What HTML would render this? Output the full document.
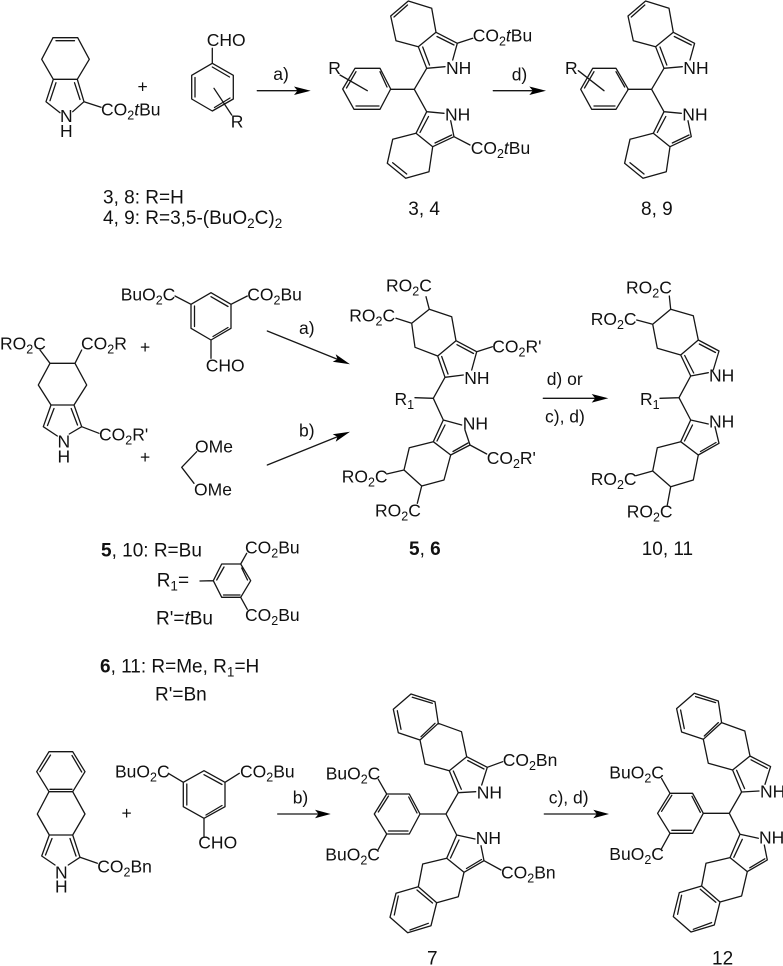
<!DOCTYPE html>
<html><head><meta charset="utf-8"><style>
html,body{margin:0;padding:0;background:#fff;width:783px;height:966px;overflow:hidden}
svg{display:block}
path.b{fill:none;stroke:#161616;stroke-width:1.3;stroke-linecap:round;stroke-linejoin:round}
path.a{fill:#000;stroke:none}
text{font-family:"Liberation Sans",sans-serif;font-size:17.5px;fill:#111}
text.l{font-size:19px}
.s{font-size:12.5px}
.l .s{font-size:13.5px}
</style></head><body>
<svg width="783" height="966" viewBox="0 0 783 966" xmlns="http://www.w3.org/2000/svg">

<!-- Row 1 reagents -->
<path class="b" d="M53,37.7L77.7,37.7M56,40.7L74.5,40.7M53,37.7L41.7,59.3L53.3,79.3L77.3,79.3L89.3,59.3L77.7,37.7M53.3,79.3L46,101.7L60,112.7M56,82.7L50,100.7M77.3,79.3L84,101.7L72.7,111.7M74.5,82.7L80,99.5M84,101.7L101,107.3"/>
<text x="60" y="122">N</text><text x="60" y="137">H</text>
<text x="101" y="115.5">CO<tspan class="s" dy="4">2</tspan><tspan dy="-4" font-style="italic">t</tspan>Bu</text>
<text x="137.5" y="92.5">+</text>
<path class="b" d="M212.3,48.3L212.3,63.3L233.3,75.3L233.3,99L212.3,111L191.7,99L191.7,75.3L212.3,63.3M212.3,67L229.5,77M195,77.5L195,97M214.5,107.5L230,98M214,88.3L231.7,115"/>
<text x="206.7" y="46">CHO</text>
<text x="230.7" y="127.7">R</text>
<path class="b" d="M257.3,90.7L300,90.7"/><path class="a" d="M310.7,90.7L294,86.5L297.5,90.7L294,95Z"/>
<text x="273.3" y="80">a)</text>
<text class="l" x="103" y="203.5">3, 8: R=H</text>
<text class="l" x="103" y="224">4, 9: R=3,5-(BuO<tspan class="s" dy="4">2</tspan><tspan dy="-4">C)</tspan><tspan class="s" dy="4">2</tspan></text>

<!-- 3,4 -->
<path class="b" d="M355,68.3L380,68.3L390.7,89L380,109.3L354,109.3L342.7,89ZM380,71.7L387,87M346.5,88L356,71.7M356,106L379,106M340,75L367.3,90.7"/>
<text x="328.3" y="74">R</text>
<g id="bp1"><path class="b" d="M390.5,89.3L414.3,89.3L426.7,68.3L445,66.7M426.7,68.3L418.3,46.7L436,32.3L457.3,43.3L452.7,60M429.5,65L422.7,47M437,36.5L454,45M436,32.3L431.7,8.3L408.3,1L390.7,16L396,40.7L418.3,46.7M407.5,5L394,17M414.3,89.3L426.7,111.7L444,113.3M426.7,111.7L416,133.3L432.7,146.7L454,136.7L450.7,120.7M428.5,116.5L420,132.5M435,143L451.7,135M416,133.3L392.7,139.3L387.3,163.3L405.7,178.3L429,171.7L432.7,146.7M392.7,162.7L406.7,174"/>
<text x="446" y="74">NH</text><text x="445" y="120.7">NH</text></g>
<path class="b" d="M457.3,43.3L472.7,38.3M454,136.7L470,145"/>
<text x="472.7" y="41.7">CO<tspan class="s" dy="4">2</tspan><tspan dy="-4" font-style="italic">t</tspan>Bu</text>
<text x="470.7" y="154">CO<tspan class="s" dy="4">2</tspan><tspan dy="-4" font-style="italic">t</tspan>Bu</text>
<path class="b" d="M493.3,90.7L535,90.7"/><path class="a" d="M546,90.7L529.3,86.5L532.8,90.7L529.3,95Z"/>
<text x="511.7" y="80.7">d)</text>
<text class="l" x="408.3" y="215">3, 4</text>

<!-- 8,9 -->
<path class="b" d="M592.7,68.3L616,68.3L628.3,89.3L616,109.3L591.7,109.3L580.7,89.3ZM616,71.7L624.7,87M584.5,88L594,71.7M594,106L615,106M578.3,70.7L604,90.7"/>
<text x="565" y="74">R</text>
<use href="#bp1" transform="translate(237.3,0)"/>
<text class="l" x="641" y="215">8, 9</text>

<!-- Row 2 reagents -->
<path class="b" d="M50,363.3L75,363.3L86.7,385L74,405L51,405L38.3,385ZM51,405L43.3,426.7L57.3,436M54,408.5L47.5,425.5M74,405L81.7,426.7L69.3,434M71.2,408.5L77.5,425M50,363.3L40,350M75,363.3L81.7,350M81.7,426.7L99,433.3"/>
<text x="0" y="349.3">RO<tspan class="s" dy="4">2</tspan><tspan dy="-4">C</tspan></text>
<text x="81" y="349.3">CO<tspan class="s" dy="4">2</tspan><tspan dy="-4">R</tspan></text>
<text x="57.5" y="447.3">N</text><text x="57.5" y="462.3">H</text>
<text x="99" y="440.7">CO<tspan class="s" dy="4">2</tspan><tspan dy="-4">R'</tspan></text>
<text x="140" y="353">+</text><text x="140" y="463">+</text>
<path class="b" d="M211,292.7L231,304.3L231,328.3L211,340L191,328.3L191,304.3ZM211,296.7L228,306.5M194.5,306L194.5,326.5M213,336.5L228,327.5M211,340L211,358.3M191,304.3L175,296M231,304.3L247.3,296"/>
<text x="205.7" y="371.7">CHO</text>
<text x="120.7" y="300.7">BuO<tspan class="s" dy="4">2</tspan><tspan dy="-4">C</tspan></text>
<text x="247.3" y="300.7">CO<tspan class="s" dy="4">2</tspan><tspan dy="-4">Bu</tspan></text>
<path class="b" d="M267.3,331L338,359.5"/><path class="a" d="M350,364.3L332.7,361.7L337.5,359.3L335.7,354.3Z"/>
<text x="299" y="334">a)</text>
<path class="b" d="M267.3,465L338,436.5"/><path class="a" d="M350,431.7L335.7,441.7L337.5,436.7L332.7,434.3Z"/>
<text x="299" y="436.7">b)</text>
<path class="b" d="M196.7,451.7L181.7,467.3L194,483.3"/>
<text x="195" y="452.3">OMe</text><text x="194" y="495.7">OMe</text>

<!-- 5,6 -->
<path class="b" d="M415,397.7L433.3,398.3L445,377.3L463.3,375M445,377.3L437.7,356L456,340.7L476.7,351.7L471.7,370M448,374L441.7,356.5M457,344.7L473.5,353.5M456,340.7L451.7,316.7L429.3,309.3L411.7,323.3L415,347.3L437.7,356M429.3,309.3L426,296.7M411.7,323.3L396,318.3M476.7,351.7L492.3,346.7"/>
<path class="b" d="M433.3,398.3L443.3,420L461.7,425M443.3,420L433.3,441.7L450.7,455L470,445L465,430M445,425L437,441M453,451.5L468,443M433.3,441.7L409.3,447.7L404,470L421.7,486L444,480L450.7,455M404,470L386.7,474M421.7,486L417.3,503.3M470,445L486.7,454"/>
<text x="386" y="291.7">RO<tspan class="s" dy="4">2</tspan><tspan dy="-4">C</tspan></text>
<text x="349.3" y="321.7">RO<tspan class="s" dy="4">2</tspan><tspan dy="-4">C</tspan></text>
<text x="492.3" y="352.3">CO<tspan class="s" dy="4">2</tspan><tspan dy="-4">R'</tspan></text>
<text x="464.3" y="384">NH</text>
<text x="394.5" y="405">R<tspan class="s" dy="4">1</tspan></text>
<text x="462.7" y="429.3">NH</text>
<text x="486.7" y="464">CO<tspan class="s" dy="4">2</tspan><tspan dy="-4">R'</tspan></text>
<text x="341.7" y="482.7">RO<tspan class="s" dy="4">2</tspan><tspan dy="-4">C</tspan></text>
<text x="375" y="516.7">RO<tspan class="s" dy="4">2</tspan><tspan dy="-4">C</tspan></text>
<text class="l" x="409" y="555"><tspan font-weight="bold">5</tspan>, <tspan font-weight="bold">6</tspan></text>
<path class="b" d="M543.3,398.3L597,398.3"/><path class="a" d="M608.3,398.3L591.7,394L595.2,398.3L591.7,402.6Z"/>
<text x="546.7" y="385">d) or</text>
<text x="545" y="422.7">c), d)</text>

<!-- 10,11 -->
<path class="b" d="M660,398.3L679,397.7L690.7,376L708.3,372.7M690.7,376L680.7,355L698.3,340L719,351L713.3,370M693.7,373L684.7,355.5M699.3,344L715.5,352.5M698.3,340L693.3,315.7L670.7,309.3L652.7,324.3L657.3,348.3L680.7,355M670.7,309.3L669.3,296M652.7,324.3L636.7,320"/>
<path class="b" d="M679,397.7L690.7,420L708.3,424M690.7,420L680.7,441.7L698.3,455L719,443.3L715,426.7M692.5,425L684.5,441M700.5,451.5L716,442.5M680.7,441.7L657.3,447.7L652.7,471L670.7,486.7L693.3,480L698.3,455M652.7,471L635.7,475.7M670.7,486.7L667.3,505"/>
<text x="626" y="293.3">RO<tspan class="s" dy="4">2</tspan><tspan dy="-4">C</tspan></text>
<text x="590.7" y="325">RO<tspan class="s" dy="4">2</tspan><tspan dy="-4">C</tspan></text>
<text x="709" y="381.7">NH</text>
<text x="640" y="405">R<tspan class="s" dy="4">1</tspan></text>
<text x="709" y="427.7">NH</text>
<text x="590.7" y="485">RO<tspan class="s" dy="4">2</tspan><tspan dy="-4">C</tspan></text>
<text x="626.7" y="517.3">RO<tspan class="s" dy="4">2</tspan><tspan dy="-4">C</tspan></text>
<text class="l" x="641.7" y="555">10, 11</text>

<!-- Legend 2 -->
<text class="l" x="101" y="556.7"><tspan font-weight="bold">5</tspan>, 10: R=Bu</text>
<text class="l" x="156.7" y="586.7">R<tspan class="s" dy="4">1</tspan><tspan dy="-4">=</tspan></text>
<text class="l" x="156" y="624.3">R'=<tspan font-style="italic">t</tspan>Bu</text>
<text class="l" x="100" y="672.3"><tspan font-weight="bold">6</tspan>, 11: R=Me, R<tspan class="s" dy="4">1</tspan><tspan dy="-4">=H</tspan></text>
<text class="l" x="155" y="700.7">R'=Bn</text>
<path class="b" d="M200,581L213.3,580.7L221.7,564L240.7,564L250.7,580.7L240.7,597.3L221.7,597.3L213.3,580.7M216.7,580L224,567M241.7,568L247.5,580M223.5,595L240,595M240.7,564L246.7,553.3M240.7,597.3L247.3,609.3"/>
<text x="245" y="553.3">CO<tspan class="s" dy="4">2</tspan><tspan dy="-4">Bu</tspan></text>
<text x="245" y="621">CO<tspan class="s" dy="4">2</tspan><tspan dy="-4">Bu</tspan></text>

<!-- Row 3 reagents -->
<path class="b" d="M49,751.7L72.7,751.7L85,771.7L72.7,791.7L49,791.7L36.7,771.7ZM40,771.7L50.5,755M72,755.5L81.7,772M50,789.3L72,789.3M49,791.7L37.3,814L49.3,835L72.7,835L85,814L72.7,791.7M49.3,835L41.7,856L55,865M52,838.5L45.5,855M72.7,835L80,857.3L68.3,865M70,838.5L76,856M80,857.3L97.3,863.3"/>
<text x="55" y="878.3">N</text><text x="55" y="892.7">H</text>
<text x="97.3" y="872.3">CO<tspan class="s" dy="4">2</tspan><tspan dy="-4">Bn</tspan></text>
<text x="121.5" y="819">+</text>
<path class="b" d="M204,770.7L225,782.3L225,806.7L204,818.3L183.3,806.7L183.3,782.3ZM204,774.7L222,784.5M186.8,784L186.8,805M206,815L222,805.5M204,818.3L204,836.7M183.3,782.3L168.3,773.3M225,782.3L239.3,773.3"/>
<text x="198.3" y="848.3">CHO</text>
<text x="115" y="777.7">BuO<tspan class="s" dy="4">2</tspan><tspan dy="-4">C</tspan></text>
<text x="240" y="777.7">CO<tspan class="s" dy="4">2</tspan><tspan dy="-4">Bu</tspan></text>
<path class="b" d="M277.7,814L320,814"/><path class="a" d="M330.7,814L315,809.7L318.5,814L315,818.3Z"/>
<text x="292.7" y="803.3">b)</text>

<!-- 7 -->
<g id="tb"><path class="b" d="M386.7,794L409.3,794L420,814L409.3,834L386.7,834L374.3,814ZM378.3,812L388.5,796M408.7,797L417,813M388.5,831L408,831M386.7,794L378.3,779.3M386.7,834L378.3,849.3M420,814L446,814L458.3,792.7L475.7,791.7M458.3,792.7L449.3,770.7L466.7,756.7L487.3,767.3L481.7,785M461.3,789.3L453.3,771M467.7,760.5L484,769M466.7,756.7L461.5,731.7L438.3,723.3L420,740L425,764L449.3,770.7M438.3,723.3L435,701.7L411,694L393.3,709.3L398.3,732.7L420,740M435,723.3L421,736.7M432.3,703.3L412.3,697.3M397.3,710.7L401,729.3M446,814L456.7,835L475,839M456.7,835L446.7,858.3L464,872.3L484,860.7L481,845.7M459,840L450.5,858M466.5,868.5L481.5,859.5M446.7,858.3L422.7,864L418.3,886.7L436.7,902.7L458.3,896.7L464,872.3M418.3,886.7L396,893.3L390,917.3L407.7,932.7L431,925.7L436.7,902.7M417,890L432.5,903M398.3,896L394.3,915M410,930L428.3,923.3"/>
<text x="476.7" y="798.3">NH</text><text x="475.7" y="844">NH</text></g>
<path class="b" d="M487.3,767.3L502.7,761.7M484,860.7L501,870"/>
<text x="325.7" y="779.3">BuO<tspan class="s" dy="4">2</tspan><tspan dy="-4">C</tspan></text>
<text x="325.3" y="860.7">BuO<tspan class="s" dy="4">2</tspan><tspan dy="-4">C</tspan></text>
<text x="502.7" y="766">CO<tspan class="s" dy="4">2</tspan><tspan dy="-4">Bn</tspan></text>
<text x="501" y="878.3">CO<tspan class="s" dy="4">2</tspan><tspan dy="-4">Bn</tspan></text>
<text class="l" x="427" y="964.5">7</text>
<path class="b" d="M544.3,814L598,814"/><path class="a" d="M609,814L593.3,809.7L596.8,814L593.3,818.3Z"/>
<text x="548.7" y="803.3">c), d)</text>

<!-- 12 -->
<use href="#tb" transform="translate(283.3,-0.7)"/>
<text x="609.3" y="778.3">BuO<tspan class="s" dy="4">2</tspan><tspan dy="-4">C</tspan></text>
<text x="609.3" y="860">BuO<tspan class="s" dy="4">2</tspan><tspan dy="-4">C</tspan></text>
<text class="l" x="712" y="964.5">12</text>
</svg>
</body></html>
